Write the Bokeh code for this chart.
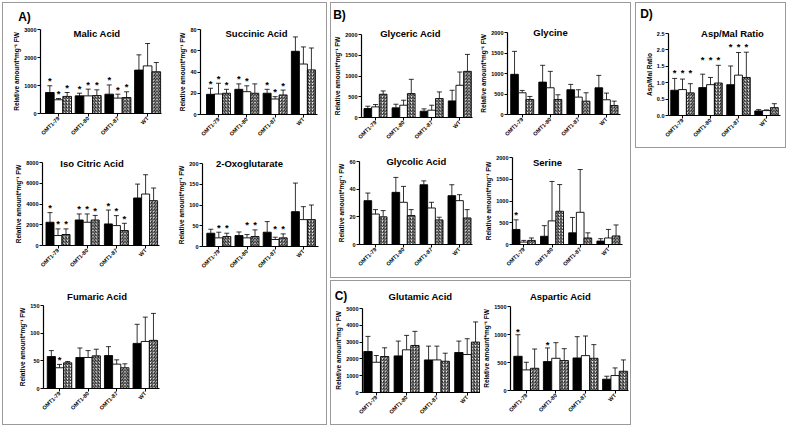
import math
from bokeh.plotting import figure
from bokeh.models import (Range1d, FixedTicker, Whisker, TeeHead, ColumnDataSource,
                          Label, Spacer, PrintfTickFormatter, LinearAxis)
from bokeh.layouts import row, column
from bokeh.core.properties import value
from bokeh.embed import file_html
from bokeh.resources import INLINE

FONT = "Liberation Sans"
YLAB = "Relative amount*mg\u207b\u00b9 FW"

categories = ["OMT1-79", "OMT1-80", "OMT1-87", "WT"]

# each panel: three series (black, white, hatched), one value per category
malic_ticks = [0, 1000, 2000, 3000]
malic_means = [[750, 630, 690, 1550], [490, 630, 550, 1700], [610, 640, 570, 1490]]
malic_errs = [[240, 95, 330, 545], [45, 240, 140, 800], [140, 205, 205, 330]]
malic_stars = [[1, 1, 1, 0], [1, 1, 1, 0], [1, 1, 1, 0]]

succinic_ticks = [0, 20, 40, 60, 80]
succinic_means = [[19, 23.7, 20, 59.5], [19.3, 21.5, 14.6, 47.5], [20, 20, 18.4, 42]]
succinic_errs = [[5.7, 5.1, 3.7, 13.5], [10.1, 5.5, 2.2, 16.1], [3.7, 8.8, 4.6, 20.6]]
succinic_stars = [[1, 1, 1, 0], [1, 1, 1, 0], [1, 0, 1, 0]]

isocitric_ticks = [0, 2000, 4000, 6000, 8000]
isocitric_means = [[2240, 2460, 2080, 4580], [960, 2240, 1920, 4960], [1060, 2460, 1440, 4320]]
isocitric_errs = [[930, 580, 1340, 1340], [640, 800, 960, 1860], [540, 440, 700, 1220]]
isocitric_stars = [[1, 1, 1, 0], [1, 1, 1, 0], [1, 1, 1, 0]]

oxo_ticks = [0, 50, 100, 150, 200]
oxo_means = [[32, 26.4, 34.4, 84], [20.8, 20.8, 16.8, 64.8], [24, 24, 20.8, 64.8]]
oxo_errs = [[9.6, 8.6, 25.6, 68.8], [13.6, 8, 5.6, 31.2], [8, 16, 9.6, 35.2]]
oxo_stars = [[0, 0, 0, 0], [1, 1, 1, 0], [1, 1, 1, 0]]

fumaric_ticks = [0, 50, 100, 150]
fumaric_means = [[57.7, 56, 59.5, 81.5], [37.5, 56, 44, 85], [46.4, 59, 37.5, 87]]
fumaric_errs = [[10.8, 17.2, 16.1, 34.5], [6, 12.5, 7.8, 44], [2.4, 12, 7.1, 48.7]]
fumaric_stars = [[0, 0, 0, 0], [1, 0, 0, 0], [0, 0, 0, 0]]

glyceric_ticks = [0, 500, 1000, 1500, 2000]
glyceric_means = [[216, 232, 152, 400], [256, 296, 176, 776], [560, 576, 456, 1112]]
glyceric_errs = [[56, 88, 56, 256], [56, 120, 120, 320], [80, 344, 160, 408]]
glyceric_stars = [[0, 0, 0, 0], [0, 0, 0, 0], [0, 0, 0, 0]]

glycine_ticks = [0, 500, 1000, 1500, 2000]
glycine_means = [[980, 790, 604, 652], [530, 652, 424, 359], [367, 367, 326, 220]]
glycine_errs = [[560, 410, 130, 302], [57, 400, 180, 163], [73, 114, 204, 106]]
glycine_stars = [[0, 0, 0, 0], [0, 0, 0, 0], [0, 0, 0, 0]]

glycolic_ticks = [0, 20, 40, 60]
glycolic_means = [[31.7, 37.7, 43.2, 35.3], [22, 30.5, 26.4, 31.7], [20, 20.9, 17.8, 19.2]]
glycolic_errs = [[5.5, 10.8, 2.8, 7.9], [3.2, 11.5, 4.1, 4.3], [4.5, 4.3, 1.9, 6]]
glycolic_stars = [[0, 0, 0, 0], [0, 0, 0, 0], [0, 0, 0, 0]]

serine_ticks = [0, 500, 1000, 1500, 2000]
serine_means = [[346, 189, 268, 79], [55, 543, 740, 150], [94, 764, 150, 197]]
serine_errs = [[221, 244, 354, 55], [39, 906, 984, 196], [56, 614, 118, 252]]
serine_stars = [[1, 0, 0, 0], [0, 0, 0, 0], [0, 0, 0, 0]]

glutamic_ticks = [0, 1000, 2000, 3000, 4000, 5000]
glutamic_means = [[2440, 2180, 1940, 2380], [1800, 2540, 1940, 2260], [2140, 2800, 1860, 3000]]
glutamic_errs = [[900, 880, 820, 680], [400, 860, 820, 940], [520, 840, 480, 1200]]
glutamic_stars = [[0, 0, 0, 0], [0, 0, 0, 0], [0, 0, 0, 0]]

aspartic_ticks = [0, 500, 1000, 1500]
aspartic_means = [[611, 516, 581, 202], [368, 575, 623, 267], [397, 534, 575, 344]]
aspartic_errs = [[385, 244, 380, 53], [136, 279, 350, 136], [344, 213, 244, 202]]
aspartic_stars = [[1, 1, 0, 0], [0, 0, 0, 0], [0, 0, 0, 0]]

aspmal_ticks = [0, 0.5, 1.0, 1.5, 2.0, 2.5]
aspmal_means = [[0.77, 0.85, 0.94, 0.14], [0.79, 0.94, 1.23, 0.15], [0.69, 0.99, 1.16, 0.24]]
aspmal_errs = [[0.36, 0.41, 0.57, 0.04], [0.32, 0.22, 0.69, 0.02], [0.28, 0.54, 0.77, 0.12]]
aspmal_stars = [[1, 1, 1, 0], [1, 1, 1, 0], [1, 1, 1, 0]]


def panel(title, ticks, means, errs, stars, fig, axes, grp, tpos, star_mode="own",
          star_px=5, ylabel=YLAB, fmt=None, section=None, spos=None):
    # fig: (left, top, width, height) on page; axes: (L, T, R, B) page px of axis box
    # grp: (first group centre px, group spacing px, group width px)
    fx, fy, W, H = fig
    L, T, R, B = axes
    c0, d, g = grp
    ytop = ticks[-1]
    yu = ytop / (B - T)

    def dx(px):
        return (px - c0) / d

    def dy(py):
        return (B - py) * yu

    p = figure(width=W, height=H, x_range=Range1d(dx(fx), dx(fx + W)),
               y_range=Range1d(dy(fy + H), dy(fy)), output_backend="svg",
               toolbar_location=None, x_axis_type=None, y_axis_type=None,
               min_border=0, min_border_left=0, min_border_right=0,
               min_border_top=0, min_border_bottom=0)
    p.outline_line_color = None
    p.border_fill_color = "white"
    p.background_fill_color = "white"
    bw = g / 3.0 / d
    offs = [-bw, 0.0, bw]
    n = len(categories)
    for s in range(3):
        xs = [i + offs[s] for i in range(n)]
        up = [m + e for m, e in zip(means[s], errs[s])]
        src = ColumnDataSource(dict(x=xs, top=means[s], up=up))
        kw = dict(line_color="black", line_width=0.9)
        if s == 0:
            kw.update(fill_color="black")
        elif s == 1:
            kw.update(fill_color="white")
        else:
            kw.update(fill_color="white", hatch_pattern="/", hatch_color="black",
                      hatch_scale=3.2, hatch_weight=0.9)
        p.vbar(x="x", top="top", bottom=0, width=bw, source=src, **kw)
        p.add_layout(Whisker(source=src, base="x", upper="up", lower="top",
                             dimension="height", line_color="black", line_width=0.8,
                             upper_head=TeeHead(size=5, line_color="black", line_width=0.8),
                             lower_head=None))
    sx, sy = [], []
    for i in range(n):
        flagged = [s for s in range(3) if stars[s][i]]
        if not flagged:
            continue
        if star_mode == "group":
            h = max(means[s][i] + errs[s][i] for s in flagged)
            for s in flagged:
                sx.append(i + offs[s])
                sy.append(h + star_px * yu)
        else:
            for s in flagged:
                sx.append(i + offs[s])
                sy.append(means[s][i] + errs[s][i] + star_px * yu)
    if sx:
        p.text(x=sx, y=sy, text=["*"] * len(sx), text_align="center",
               text_baseline="middle", text_font=value(FONT), text_font_style="bold",
               text_font_size="9.5px", text_color="black")

    xa = LinearAxis(fixed_location=0, bounds=(dx(L), dx(R)),
                    ticker=FixedTicker(ticks=list(range(n))),
                    major_label_overrides={i: c for i, c in enumerate(categories)},
                    major_label_orientation=math.pi / 4)
    ya = LinearAxis(fixed_location=dx(L), bounds=(0, ytop), ticker=FixedTicker(ticks=ticks),
                    axis_label=ylabel)
    if fmt:
        ya.formatter = PrintfTickFormatter(format=fmt)
    for ax in (xa, ya):
        ax.axis_line_color = "black"
        ax.axis_line_width = 1.2
        ax.major_tick_line_color = "black"
        ax.major_tick_line_width = 1
        ax.major_tick_in = 0
        ax.major_tick_out = 3
        ax.minor_tick_line_color = None
        ax.major_label_text_font = FONT
        ax.major_label_text_font_style = "bold"
        ax.major_label_text_font_size = "5.5px"
        ax.major_label_text_color = "black"
        ax.major_label_standoff = 1
    ya.axis_label_text_font = FONT
    ya.axis_label_text_font_style = "bold"
    ya.axis_label_text_font_size = "6.5px"
    ya.axis_label_text_color = "black"
    ya.axis_label_standoff = 1
    p.add_layout(xa, "below")
    p.add_layout(ya, "left")

    p.add_layout(Label(x=dx(tpos[0]), y=dy(tpos[1]), text=title,
                       text_align="center", text_baseline="middle", text_font=FONT,
                       text_font_style="bold", text_font_size="9.5px", text_color="black"))
    if section:
        p.add_layout(Label(x=dx(spos[0]), y=dy(spos[1]), text=section,
                           text_align="center", text_baseline="middle", text_font=FONT,
                           text_font_style="bold", text_font_size="12px",
                           text_color="black"))
    return p


pm = panel("Malic Acid", malic_ticks, malic_means, malic_errs, malic_stars,
           (3, 3, 162, 147), (40, 29, 161, 113), (58, 29.7, 26), (96.5, 32.5),
           section="A)", spos=(24, 16))
ps = panel("Succinic  Acid", succinic_ticks, succinic_means, succinic_errs, succinic_stars,
           (165, 3, 161, 147), (200, 29, 317, 114), (218, 28.3, 24), (257.5, 32.5))
pi = panel("Iso Citric Acid", isocitric_ticks, isocitric_means, isocitric_errs,
           isocitric_stars, (3, 150, 162, 135), (42, 162, 159, 245), (57.5, 29.2, 24),
           (91.7, 162.5))
po = panel("2-Oxoglutarate", oxo_ticks, oxo_means, oxo_errs, oxo_stars,
           (165, 150, 161, 135), (202, 163, 318, 246), (218.3, 28.2, 24), (249, 162.5),
           star_mode="group", star_px=5)
pf = panel("Fumaric Acid", fumaric_ticks, fumaric_means, fumaric_errs, fumaric_stars,
           (3, 285, 162, 139), (43, 305, 159, 388), (59, 28.6, 24.5), (96.7, 296))

pgr = panel("Glyceric Acid", glyceric_ticks, glyceric_means, glyceric_errs, glyceric_stars,
            (331, 3, 148, 147), (361, 34, 472, 117), (375, 28.1, 23), (410, 33),
            section="B)", spos=(339, 14))
pgy = panel("Glycine", glycine_ticks, glycine_means, glycine_errs, glycine_stars,
            (479, 3, 151, 147), (507, 32, 620, 114), (521.7, 28.1, 23), (550, 32))
pgl = panel("Glycolic Acid", glycolic_ticks, glycolic_means, glycolic_errs, glycolic_stars,
            (331, 150, 148, 127), (359, 161, 472, 244), (375, 28.0, 23), (416, 161))
pse = panel("Serine", serine_ticks, serine_means, serine_errs, serine_stars,
            (479, 150, 151, 127), (512, 157, 622, 244), (523.3, 28.2, 23), (547, 162))

pgu = panel("Glutamic Acid", glutamic_ticks, glutamic_means, glutamic_errs, glutamic_stars,
            (331, 281, 149, 143), (362, 308, 480, 392), (375.8, 30.3, 25), (420, 296),
            section="C)", spos=(340.5, 295))
pas = panel("Aspartic Acid", aspartic_ticks, aspartic_means, aspartic_errs, aspartic_stars,
            (480, 281, 150, 143), (510, 306, 628, 390), (525.8, 29.6, 25), (560, 296),
            star_px=3.5)

pam = panel("Asp/Mal Ratio", aspmal_ticks, aspmal_means, aspmal_errs, aspmal_stars,
            (636, 3, 149, 144), (668, 33, 780, 115), (682, 28, 23.5), (732, 33),
            star_mode="group", star_px=6, ylabel="Asp/Mal Ratio", fmt="%.1f",
            section="D)", spos=(646, 13))

BOX = {"outline": "1px solid #9a9a9a"}

boxA = column(row(pm, ps), row(pi, po), row(pf, Spacer(width=161, height=139)),
              styles=BOX)
boxB = column(row(pgr, pgy), row(pgl, pse), styles=BOX)
boxC = column(row(pgu, pas), styles=BOX)
boxD = column(pam, styles=BOX)

layout = column(Spacer(width=10, height=3),
                row(Spacer(width=3, height=10), boxA, Spacer(width=5, height=10),
                    column(boxB, Spacer(width=10, height=4), boxC),
                    Spacer(width=6, height=10), boxD))

open("out.html", "w").write(file_html(layout, INLINE))
